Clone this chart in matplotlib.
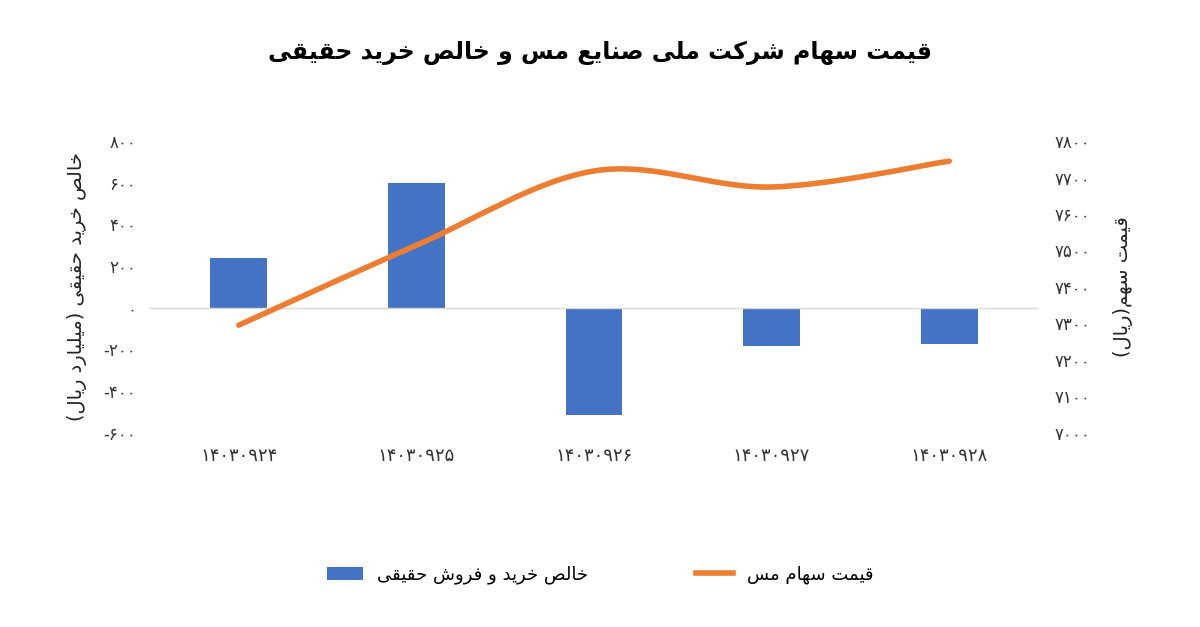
import matplotlib
matplotlib.use("Agg")
import matplotlib.pyplot as plt
from matplotlib.path import Path
from matplotlib.patches import PathPatch
from matplotlib.lines import Line2D
import numpy as np

plt.rcParams['font.family'] = ['DejaVu Sans']

categories = ["۱۴۰۳۰۹۲۴", "۱۴۰۳۰۹۲۵", "۱۴۰۳۰۹۲۶", "۱۴۰۳۰۹۲۷", "۱۴۰۳۰۹۲۸"]
net_buy = [240, 598, -516, -183, -173]
price = [7295, 7514, 7718, 7674, 7745]
left_ticks = [-600, -400, -200, 0, 200, 400, 600, 800]
right_ticks = [7000, 7100, 7200, 7300, 7400, 7500, 7600, 7700, 7800]

# --- minimal Arabic/Persian shaping ---
FORMS = {  # iso, fin, ini, med
    'ا': (0xFE8D, 0xFE8E, None, None), 'ب': (0xFE8F, 0xFE90, 0xFE91, 0xFE92),
    'ت': (0xFE95, 0xFE96, 0xFE97, 0xFE98), 'ح': (0xFEA1, 0xFEA2, 0xFEA3, 0xFEA4),
    'خ': (0xFEA5, 0xFEA6, 0xFEA7, 0xFEA8), 'د': (0xFEA9, 0xFEAA, None, None),
    'ر': (0xFEAD, 0xFEAE, None, None), 'ز': (0xFEAF, 0xFEB0, None, None),
    'س': (0xFEB1, 0xFEB2, 0xFEB3, 0xFEB4), 'ش': (0xFEB5, 0xFEB6, 0xFEB7, 0xFEB8),
    'ص': (0xFEB9, 0xFEBA, 0xFEBB, 0xFEBC), 'ع': (0xFEC9, 0xFECA, 0xFECB, 0xFECC),
    'ف': (0xFED1, 0xFED2, 0xFED3, 0xFED4), 'ق': (0xFED5, 0xFED6, 0xFED7, 0xFED8),
    'ل': (0xFEDD, 0xFEDE, 0xFEDF, 0xFEE0), 'م': (0xFEE1, 0xFEE2, 0xFEE3, 0xFEE4),
    'ن': (0xFEE5, 0xFEE6, 0xFEE7, 0xFEE8), 'ه': (0xFEE9, 0xFEEA, 0xFEEB, 0xFEEC),
    'و': (0xFEED, 0xFEEE, None, None), 'ی': (0xFBFC, 0xFBFD, 0xFBFE, 0xFBFF),
    'ک': (0xFB8E, 0xFB8F, 0xFB90, 0xFB91),
}
MIRROR = {'(': ')', ')': '('}

def shape(s):
    out = []
    for i, c in enumerate(s):
        if c not in FORMS:
            out.append(MIRROR.get(c, c)); continue
        prev = s[i-1] if i > 0 else ''
        nxt = s[i+1] if i + 1 < len(s) else ''
        jp = prev in FORMS and FORMS[prev][2] is not None
        jn = nxt in FORMS and FORMS[c][2] is not None
        f = FORMS[c]
        if jp and jn: code = f[3]
        elif jp: code = f[1]
        elif jn: code = f[2]
        else: code = f[0]
        out.append(chr(code))
    return ''.join(out)[::-1]

def fa(n):
    s = str(abs(n)).translate(str.maketrans("0123456789", "۰۱۲۳۴۵۶۷۸۹"))
    return ("-" + s) if n < 0 else s

fig = plt.figure(figsize=(12, 6.27), dpi=100)
ax = fig.add_axes([0.125, 0.31, 0.74, 0.465])
x = np.arange(len(categories))
bars = ax.bar(x, net_buy, width=0.32, color='#4472C4')
ax.axhline(0, color='#d9d9d9', lw=1)
ax.set_ylim(-600, 800)
ax.set_yticks(left_ticks)
ax.set_yticklabels([fa(v) for v in left_ticks], fontsize=12, color='#333')
ax.set_xlim(-0.5, 4.5)
ax.set_xticks(x)
ax.set_xticklabels(categories, fontsize=13, color='#333')
ax.tick_params(length=0, pad=10)
for s in ax.spines.values():
    s.set_visible(False)
ax.set_ylabel(shape("خالص خرید حقیقی (میلیارد ریال)"), fontsize=14, color='#222', labelpad=12)

ax2 = ax.twinx()
ax2.set_ylim(7000, 7800)
# smoothed line (Excel-style), Catmull-Rom -> cubic Bezier through data points
pts = np.column_stack([x, price]).astype(float)
verts = [tuple(pts[0])]
codes = [Path.MOVETO]
t = 1 / 6
for i in range(len(pts) - 1):
    p0 = pts[i - 1] if i > 0 else pts[i]
    p1, p2 = pts[i], pts[i + 1]
    p3 = pts[i + 2] if i + 2 < len(pts) else pts[i + 1]
    c1 = p1 + (p2 - p0) * t
    c2 = p2 - (p3 - p1) * t
    verts += [tuple(c1), tuple(c2), tuple(p2)]
    codes += [Path.CURVE4] * 3
ax2.add_patch(PathPatch(Path(verts, codes), fill=False, edgecolor='#ED7D31', lw=4, capstyle='round'))
ax2.set_yticks(right_ticks)
ax2.set_yticklabels([fa(v) for v in right_ticks], fontsize=12, color='#333')
ax2.tick_params(length=0, pad=12)
for s in ax2.spines.values():
    s.set_visible(False)
ax2.set_ylabel(shape("قیمت سهم(ریال)"), fontsize=14, color='#222', rotation=90, labelpad=16)

fig.text(0.5, 0.915, shape("قیمت سهام شرکت ملی صنایع مس و خالص خرید حقیقی"),
         ha='center', va='center', fontsize=17, fontweight='bold')
line_handle = Line2D([], [], color='#ED7D31', lw=4)
fig.legend([bars, line_handle], [shape("خالص خرید و فروش حقیقی"), shape("قیمت سهام مس")],
           loc='center', bbox_to_anchor=(0.5, 0.083), ncol=2, frameon=False, fontsize=13,
           columnspacing=6, markerfirst=True)
fig.savefig("out.png", dpi=100)
